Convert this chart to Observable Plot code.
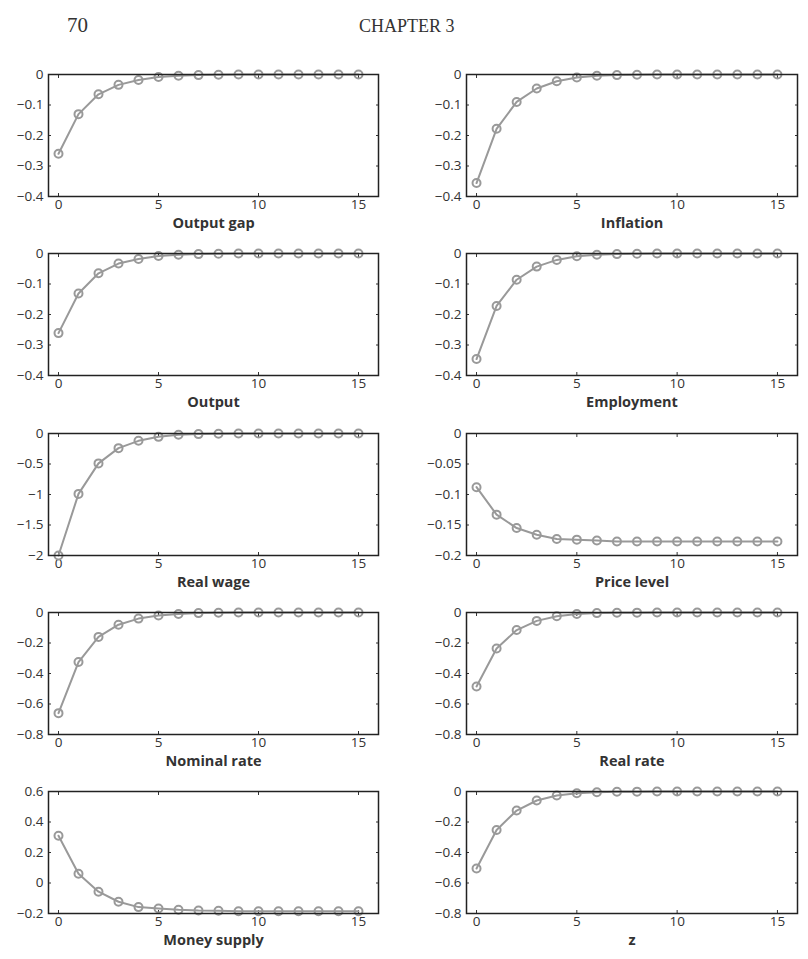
<!DOCTYPE html>
<html>
<head>
<meta charset="utf-8">
<script src="https://cdn.jsdelivr.net/npm/d3@7"></script>
<script src="https://cdn.jsdelivr.net/npm/@observablehq/plot@0.6"></script>
<style>
  html, body { margin: 0; padding: 0; background: #fff; }
  #page { position: relative; width: 808px; height: 959px; overflow: hidden; }
  .hdr { position: absolute; font-family: "Liberation Serif", "DejaVu Serif", serif; color: #333; line-height: 1; white-space: nowrap; }
  .panel { position: absolute; }
</style>
</head>
<body>
<div id="page">
  <div class="hdr" style="left:67px; top:15px; font-size:21px;">70</div>
  <div class="hdr" style="left:359px; top:17px; font-size:18px;">CHAPTER 3</div>
</div>
<script>
// Horizon (quarters)
const periods = [0,1,2,3,4,5,6,7,8,9,10,11,12,13,14,15];
const xTicks = [0,5,10,15];

// Panel titles
const titles = ["Output gap","Inflation","Output","Employment","Real wage","Price level","Nominal rate","Real rate","Money supply","z"];

// Impulse responses
const outputGap   = [-0.26,-0.13,-0.065,-0.034,-0.018,-0.008,-0.004,-0.002,-0.001,0,0,0,0,0,0,0];
const inflation   = [-0.356,-0.178,-0.09,-0.046,-0.022,-0.01,-0.004,-0.002,-0.001,0,0,0,0,0,0,0];
const output      = [-0.261,-0.131,-0.065,-0.033,-0.018,-0.008,-0.004,-0.002,-0.001,0,0,0,0,0,0,0];
const employment  = [-0.346,-0.172,-0.086,-0.043,-0.021,-0.009,-0.004,-0.002,-0.001,0,0,0,0,0,0,0];
const realWage    = [-2.0,-0.99,-0.49,-0.24,-0.12,-0.055,-0.02,-0.01,-0.005,0,0,0,0,0,0,0];
const priceLevel  = [-0.088,-0.133,-0.155,-0.166,-0.173,-0.174,-0.1755,-0.177,-0.177,-0.177,-0.177,-0.177,-0.177,-0.177,-0.177,-0.177];
const nominalRate = [-0.66,-0.325,-0.16,-0.08,-0.04,-0.02,-0.01,-0.004,-0.002,0,0,0,0,0,0,0];
const realRate    = [-0.485,-0.236,-0.115,-0.055,-0.024,-0.01,-0.004,-0.002,-0.001,0,0,0,0,0,0,0];
const moneySupply = [0.31,0.061,-0.057,-0.123,-0.158,-0.167,-0.175,-0.18,-0.182,-0.185,-0.185,-0.185,-0.185,-0.185,-0.185,-0.185];
const zShock      = [-0.505,-0.252,-0.125,-0.059,-0.026,-0.012,-0.005,-0.002,-0.001,0,0,0,0,0,0,0];

const series = [outputGap, inflation, output, employment, realWage, priceLevel, nominalRate, realRate, moneySupply, zShock];

// Y domains and tick values
const yDomains = [[-0.4,0],[-0.4,0],[-0.4,0],[-0.4,0],[-2,0],[-0.2,0],[-0.8,0],[-0.8,0],[-0.2,0.6],[-0.8,0]];
const yTickSets = [
  [0,-0.1,-0.2,-0.3,-0.4],
  [0,-0.1,-0.2,-0.3,-0.4],
  [0,-0.1,-0.2,-0.3,-0.4],
  [0,-0.1,-0.2,-0.3,-0.4],
  [0,-0.5,-1,-1.5,-2],
  [0,-0.05,-0.1,-0.15,-0.2],
  [0,-0.2,-0.4,-0.6,-0.8],
  [0,-0.2,-0.4,-0.6,-0.8],
  [0.6,0.4,0.2,0,-0.2],
  [0,-0.2,-0.4,-0.6,-0.8]
];

const fmt = d => (d === 0 ? "0" : String(d).replace("-", "\u2212"));
const blank = () => "";

const page = document.getElementById("page");
const lineColor = "#999";
const fontFam = "'Open Sans', 'Liberation Sans', 'DejaVu Sans', sans-serif";
const tickFont = 13.5;

series.forEach((vals, i) => {
  const col = i % 2, row = Math.floor(i / 2);
  const data = periods.map((t, k) => ({t, v: vals[k]}));
  const mTop = 10;
  const left = col === 0 ? 0 : 418;
  const width = col === 0 ? 400 : 390;
  const mRight = col === 0 ? 22 : 11;
  const chart = Plot.plot({
    width,
    height: mTop + 122 + 46,
    marginTop: mTop,
    marginBottom: 46,
    marginLeft: 48,
    marginRight: mRight,
    style: {fontFamily: fontFam, fontSize: tickFont + "px", color: "#333", background: "transparent", overflow: "visible"},
    x: {domain: [-0.5, 16]},
    y: {domain: yDomains[i]},
    marks: [
      Plot.axisY({anchor: "left", ticks: yTickSets[i], tickFormat: fmt, tickSize: -3, tickPadding: 8, label: null, fontSize: tickFont}),
      Plot.axisY({anchor: "right", ticks: yTickSets[i], tickFormat: blank, tickSize: -3, label: null}),
      Plot.axisX({anchor: "bottom", ticks: xTicks, tickFormat: fmt, tickSize: -3, tickPadding: 6, label: null, fontSize: tickFont}),
      Plot.axisX({anchor: "top", ticks: xTicks, tickFormat: blank, tickSize: -3, label: null}),
      Plot.line(data, {x: "t", y: "v", stroke: lineColor, strokeWidth: 2}),
      Plot.dot(data, {x: "t", y: "v", r: 4, stroke: lineColor, strokeWidth: 2, fill: "none"}),
      Plot.frame({stroke: "#222", strokeWidth: 1.5}),
      Plot.text([titles[i]], {text: d => d, frameAnchor: "bottom", dy: 31, fontSize: 14.5, fontWeight: "bold", fill: "#333"})
    ]
  });
  const wrap = document.createElement("div");
  wrap.className = "panel";
  wrap.style.left = left + "px";
  wrap.style.top = (74 + row * 179.25 - mTop) + "px";
  wrap.appendChild(chart);
  page.appendChild(wrap);
});
</script>
</body>
</html>
